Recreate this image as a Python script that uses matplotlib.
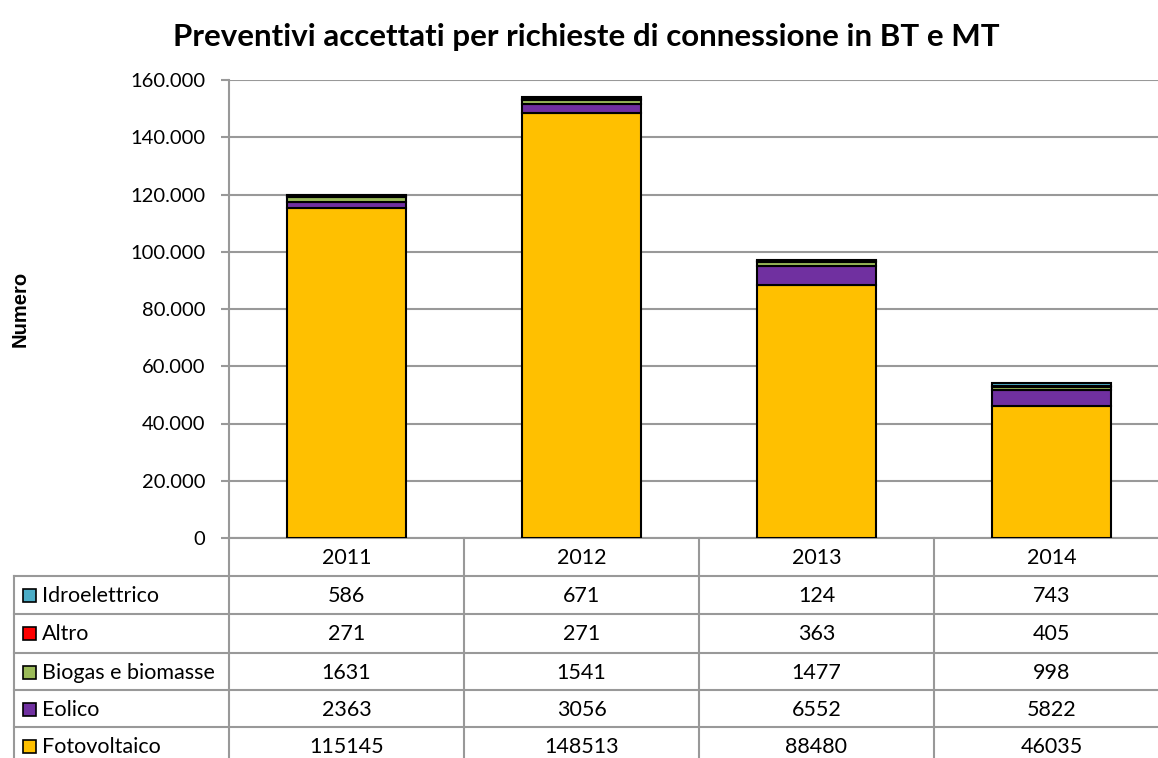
import matplotlib
matplotlib.use("Agg")
import matplotlib.pyplot as plt
from matplotlib.ticker import FuncFormatter

plt.rcParams['font.family'] = ['Lato', 'DejaVu Sans']

years = ["2011", "2012", "2013", "2014"]
series_names = ["Idroelettrico", "Altro", "Biogas e biomasse", "Eolico", "Fotovoltaico"]
idroelettrico = [586, 671, 124, 743]
altro = [271, 271, 363, 405]
biogas = [1631, 1541, 1477, 998]
eolico = [2363, 3056, 6552, 5822]
fotovoltaico = [115145, 148513, 88480, 46035]
colors = {"Idroelettrico": "#4BACC6", "Altro": "#FF0000", "Biogas e biomasse": "#9BBB59",
          "Eolico": "#7030A0", "Fotovoltaico": "#FFC000"}
values = {"Idroelettrico": idroelettrico, "Altro": altro, "Biogas e biomasse": biogas,
          "Eolico": eolico, "Fotovoltaico": fotovoltaico}

W, H = 1158, 758
fig = plt.figure(figsize=(W / 100, H / 100), dpi=100)
L, R, T, B = 229, 1169, 80, 538
ax = fig.add_axes([L / W, 1 - B / H, (R - L) / W, (B - T) / H])

x = list(range(len(years)))
bottom = [0] * len(years)
for name in ["Fotovoltaico", "Eolico", "Biogas e biomasse", "Altro", "Idroelettrico"]:
    v = values[name]
    ax.bar(x, v, width=0.51, bottom=bottom, color=colors[name], edgecolor="black",
           linewidth=1.5, zorder=3)
    bottom = [b + vi for b, vi in zip(bottom, v)]

gc = "#999999"
ax.set_xlim(-0.5, 3.5)
ax.set_ylim(0, 160000)
ax.set_yticks(range(0, 160001, 20000))
ax.yaxis.set_major_formatter(FuncFormatter(lambda v, p: f"{int(v):,}".replace(",", ".")))
ax.grid(axis="y", color=gc, linewidth=1.5, zorder=0)
ax.set_xticks([])
for s in ["top", "right"]:
    ax.spines[s].set_visible(False)
ax.spines["left"].set_color(gc)
ax.spines["left"].set_linewidth(1.5)
ax.spines["bottom"].set_color(gc)
ax.spines["bottom"].set_linewidth(1.5)
ax.tick_params(axis="y", length=6, width=1.5, color=gc, labelsize=14.5, pad=11)
ax.set_ylabel("Numero", fontsize=14.5, fontweight="bold", family="Liberation Sans")
ax.yaxis.set_label_coords(-(L - 20) / (R - L), 0.5)
ax.yaxis.label.set_va("center")

fig.text(586 / W, 1 - 37 / H, "Preventivi accettati per richieste di connessione in BT e MT",
         ha="center", va="center", fontsize=22.5, fontweight="bold")

# table overlay in pixel coordinates
ov = fig.add_axes([0, 0, 1, 1])
ov.set_xlim(0, W)
ov.set_ylim(H, 0)
ov.axis("off")
col_w = (R - L) / 4
row_lines = [576, 614, 653, 690, 727]
row_h = 37.7
for i in range(5):
    xb = L + i * col_w
    ov.plot([xb, xb], [B, H + 5], color=gc, lw=1.5)
ov.plot([14, 14], [576, H + 5], color=gc, lw=1.5)
for yl in row_lines:
    ov.plot([14, W + 5], [yl, yl], color=gc, lw=1.5)
fs = 15.5
for i, yr in enumerate(years):
    ov.text(L + (i + 0.5) * col_w, (B + 576) / 2 + 1, yr, ha="center", va="center", fontsize=fs)
for r, name in enumerate(series_names):
    yc = row_lines[r] + row_h / 2 + 1
    ov.add_patch(plt.Rectangle((23, yc - 6.5), 13, 13, facecolor=colors[name],
                               edgecolor="black", lw=1.2))
    ov.text(42, yc, name, ha="left", va="center", fontsize=fs)
    for i in range(len(years)):
        ov.text(L + (i + 0.5) * col_w, yc, str(values[name][i]), ha="center", va="center",
                fontsize=fs)

fig.savefig("out.png", dpi=100)
